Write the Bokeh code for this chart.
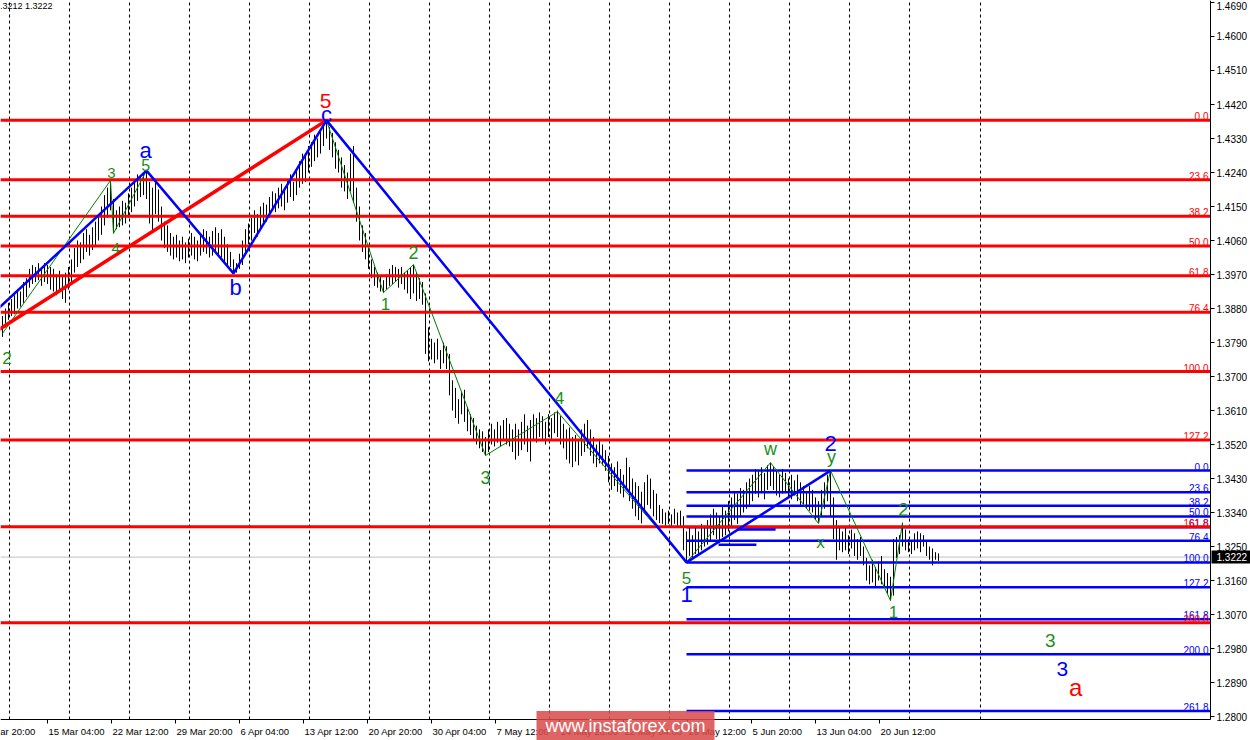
from bokeh.plotting import figure
from bokeh.models import Range1d, ColumnDataSource
from bokeh.core.properties import value
from bokeh.embed import file_html
from bokeh.resources import INLINE

# ---------------- data (GBPUSD H4) ----------------
HIGH = [
    1.3860, 1.3880, 1.3895, 1.3905, 1.3915, 1.3930, 1.3925, 1.3950, 1.3960, 1.3985,
    1.3995, 1.3990, 1.4000, 1.3985, 1.4000, 1.3995, 1.3990, 1.3985, 1.3970, 1.3980,
    1.3965, 1.3975, 1.3990, 1.4010, 1.4040, 1.4060, 1.4055, 1.4080, 1.4090, 1.4075,
    1.4095, 1.4110, 1.4130, 1.4150, 1.4180, 1.4200, 1.4219, 1.4170, 1.4140, 1.4150,
    1.4165, 1.4160, 1.4185, 1.4200, 1.4220, 1.4235, 1.4230, 1.4240, 1.4245, 1.4215,
    1.4200, 1.4215, 1.4195, 1.4150, 1.4110, 1.4100, 1.4080, 1.4070, 1.4075, 1.4060,
    1.4070, 1.4055, 1.4065, 1.4080, 1.4070, 1.4060, 1.4075, 1.4090, 1.4085, 1.4070,
    1.4085, 1.4095, 1.4080, 1.4090, 1.4070, 1.4050, 1.4030, 1.4010, 1.4000, 1.4025,
    1.4060, 1.4090, 1.4105, 1.4120, 1.4140, 1.4130, 1.4150, 1.4160, 1.4155, 1.4175,
    1.4190, 1.4185, 1.4200, 1.4210, 1.4200, 1.4220, 1.4235, 1.4215, 1.4250, 1.4270,
    1.4290, 1.4285, 1.4310, 1.4320, 1.4340, 1.4330, 1.4350, 1.4370, 1.4378, 1.4360,
    1.4345, 1.4320, 1.4300, 1.4280, 1.4260, 1.4240, 1.4290, 1.4310, 1.4200, 1.4150,
    1.4100, 1.4080, 1.4040, 1.4010, 1.3990, 1.3975, 1.3965, 1.3955, 1.3970, 1.3985,
    1.3995, 1.3990, 1.3985, 1.3990, 1.3975, 1.3980, 1.3990, 1.3996, 1.3975, 1.3960,
    1.3950, 1.3920, 1.3830, 1.3800, 1.3790, 1.3800, 1.3770, 1.3790, 1.3780, 1.3760,
    1.3690, 1.3670, 1.3640, 1.3660, 1.3665, 1.3620, 1.3600, 1.3590, 1.3570, 1.3560,
    1.3555, 1.3540, 1.3560, 1.3575, 1.3560, 1.3580, 1.3570, 1.3585, 1.3590, 1.3575,
    1.3560, 1.3575, 1.3560, 1.3580, 1.3600, 1.3570, 1.3585, 1.3600, 1.3590, 1.3605,
    1.3595, 1.3580, 1.3600, 1.3590, 1.3605, 1.3610, 1.3595, 1.3575, 1.3560, 1.3565,
    1.3540, 1.3545, 1.3530, 1.3560, 1.3575, 1.3585, 1.3560, 1.3540, 1.3520, 1.3530,
    1.3520, 1.3505, 1.3490, 1.3470, 1.3460, 1.3475, 1.3455, 1.3440, 1.3485, 1.3460,
    1.3430, 1.3420, 1.3410, 1.3395, 1.3420, 1.3440, 1.3430, 1.3400, 1.3390, 1.3360,
    1.3350, 1.3340, 1.3345, 1.3335, 1.3350, 1.3340, 1.3345, 1.3330, 1.3290, 1.3300,
    1.3280, 1.3300, 1.3290, 1.3310, 1.3305, 1.3320, 1.3335, 1.3350, 1.3340, 1.3330,
    1.3355, 1.3345, 1.3370, 1.3380, 1.3395, 1.3390, 1.3405, 1.3400, 1.3420, 1.3430,
    1.3440, 1.3455, 1.3450, 1.3460, 1.3445, 1.3465, 1.3472, 1.3460, 1.3450, 1.3440,
    1.3455, 1.3445, 1.3430, 1.3440, 1.3425, 1.3440, 1.3420, 1.3410, 1.3395, 1.3410,
    1.3400, 1.3380, 1.3370, 1.3400, 1.3420, 1.3440, 1.3451, 1.3380, 1.3320, 1.3300,
    1.3290, 1.3300, 1.3280, 1.3295, 1.3285, 1.3270, 1.3275, 1.3250, 1.3220, 1.3200,
    1.3215, 1.3195, 1.3210, 1.3225, 1.3190, 1.3180, 1.3170, 1.3270, 1.3275, 1.3280,
    1.3313, 1.3295, 1.3270, 1.3265, 1.3285, 1.3290, 1.3285, 1.3280, 1.3265, 1.3250,
    1.3245, 1.3235, 1.3232,
]
LOW = [
    1.3805, 1.3830, 1.3850, 1.3860, 1.3865, 1.3880, 1.3885, 1.3895, 1.3910, 1.3935,
    1.3945, 1.3950, 1.3955, 1.3940, 1.3950, 1.3945, 1.3930, 1.3925, 1.3915, 1.3925,
    1.3905, 1.3895, 1.3930, 1.3950, 1.3975, 1.3990, 1.4000, 1.4010, 1.4030, 1.4020,
    1.4035, 1.4045, 1.4060, 1.4075, 1.4100, 1.4120, 1.4140, 1.4079, 1.4090, 1.4095,
    1.4100, 1.4105, 1.4120, 1.4135, 1.4150, 1.4165, 1.4175, 1.4180, 1.4170, 1.4105,
    1.4080, 1.4130, 1.4110, 1.4060, 1.4040, 1.4030, 1.4020, 1.4010, 1.4015, 1.4005,
    1.4010, 1.4000, 1.4015, 1.4020, 1.4010, 1.4005, 1.4020, 1.4030, 1.4025, 1.4015,
    1.4020, 1.4030, 1.4020, 1.4015, 1.4005, 1.3995, 1.3990, 1.3973, 1.3975, 1.3985,
    1.3995, 1.4030, 1.4050, 1.4060, 1.4080, 1.4070, 1.4095, 1.4105, 1.4110, 1.4120,
    1.4140, 1.4135, 1.4145, 1.4150, 1.4140, 1.4160, 1.4175, 1.4165, 1.4180, 1.4200,
    1.4210, 1.4215, 1.4240, 1.4255, 1.4270, 1.4280, 1.4290, 1.4310, 1.4330, 1.4300,
    1.4280, 1.4250, 1.4240, 1.4200, 1.4190, 1.4170, 1.4190, 1.4160, 1.4110, 1.4060,
    1.4030, 1.4010, 1.3985, 1.3960, 1.3940, 1.3935, 1.3925, 1.3922, 1.3930, 1.3940,
    1.3945, 1.3950, 1.3935, 1.3945, 1.3930, 1.3920, 1.3905, 1.3920, 1.3900, 1.3905,
    1.3890, 1.3760, 1.3740, 1.3745, 1.3735, 1.3745, 1.3720, 1.3735, 1.3720, 1.3650,
    1.3610, 1.3590, 1.3575, 1.3600, 1.3580, 1.3555, 1.3545, 1.3530, 1.3520, 1.3510,
    1.3500, 1.3491, 1.3500, 1.3520, 1.3515, 1.3525, 1.3515, 1.3530, 1.3520, 1.3515,
    1.3500, 1.3480, 1.3490, 1.3505, 1.3520, 1.3500, 1.3475, 1.3530, 1.3525, 1.3540,
    1.3530, 1.3520, 1.3540, 1.3535, 1.3550, 1.3540, 1.3520, 1.3510, 1.3480, 1.3470,
    1.3460, 1.3475, 1.3465, 1.3490, 1.3500, 1.3510, 1.3490, 1.3470, 1.3460, 1.3470,
    1.3465, 1.3450, 1.3420, 1.3400, 1.3410, 1.3395, 1.3390, 1.3380, 1.3400, 1.3370,
    1.3350, 1.3330, 1.3320, 1.3311, 1.3340, 1.3360, 1.3350, 1.3330, 1.3320, 1.3312,
    1.3310, 1.3305, 1.3310, 1.3300, 1.3310, 1.3302, 1.3300, 1.3240, 1.3208, 1.3225,
    1.3220, 1.3230, 1.3225, 1.3240, 1.3250, 1.3255, 1.3265, 1.3280, 1.3270, 1.3260,
    1.3275, 1.3280, 1.3290, 1.3300, 1.3320, 1.3310, 1.3330, 1.3340, 1.3350, 1.3360,
    1.3370, 1.3390, 1.3380, 1.3395, 1.3375, 1.3400, 1.3410, 1.3400, 1.3385, 1.3380,
    1.3390, 1.3395, 1.3380, 1.3375, 1.3385, 1.3370, 1.3360, 1.3355, 1.3350, 1.3345,
    1.3340, 1.3320, 1.3313, 1.3330, 1.3350, 1.3370, 1.3330, 1.3270, 1.3215, 1.3240,
    1.3235, 1.3240, 1.3230, 1.3245, 1.3225, 1.3215, 1.3225, 1.3200, 1.3160, 1.3150,
    1.3155, 1.3145, 1.3160, 1.3150, 1.3140, 1.3125, 1.3107, 1.3120, 1.3220, 1.3230,
    1.3250, 1.3240, 1.3235, 1.3230, 1.3240, 1.3245, 1.3235, 1.3250, 1.3225, 1.3215,
    1.3200, 1.3215, 1.3212,
]
LAST_PRICE = 1.3222

# wave pivots: (bar index, price)
RED_WAVE = [(-3, 1.3815), (108, 1.4378)]
BLUE_WAVE = [(-3, 1.3868), (48, 1.4245), (77, 1.3973), (108, 1.4378), (228, 1.3208), (276, 1.3451)]
GREEN_WAVE_A = [(0, 1.3814), (36, 1.4219), (37, 1.4079), (48, 1.4245)]
GREEN_WAVE_B = [(108, 1.4378), (127, 1.3922), (137, 1.3996), (161, 1.3491), (185, 1.3607),
                (228, 1.3208), (256, 1.3472), (272, 1.3311), (276, 1.3451), (296, 1.3107), (300, 1.3313)]
BLUE_MARKS = [(245.0, 257.7, 1.3295), (238.7, 251.3, 1.3255)]

# Fibonacci grids
RED_FIB_HIGH, RED_FIB_LOW = 1.4378, 1.3713
RED_LEVELS = [0.0, 23.6, 38.2, 50.0, 61.8, 76.4, 100.0, 127.2, 161.8, 200.0]
BLUE_FIB_HIGH, BLUE_FIB_LOW = 1.3451, 1.3208
BLUE_FIB_START = 228
BLUE_LEVELS = [0.0, 23.6, 38.2, 50.0, 61.8, 76.4, 100.0, 127.2, 161.8, 200.0, 261.8]

# wave labels
LABEL_TEXT = ["2", "3", "4", "5", "a", "b", "c", "5", "1", "2", "3", "4", "5", "1",
              "w", "x", "y", "2", "1", "2", "3", "3", "a"]
LABEL_GROUP = ["g", "g", "g", "g", "b", "b", "b", "r", "g", "g", "g", "g", "g", "b",
               "g", "g", "g", "b", "g", "g", "g", "b", "r"]

# axes
Y_TICKS = [1.4690, 1.4600, 1.4510, 1.4420, 1.4330, 1.4240, 1.4150, 1.4060, 1.3970, 1.3880,
           1.3790, 1.3700, 1.3610, 1.3520, 1.3430, 1.3340, 1.3250, 1.3160, 1.3070, 1.2980,
           1.2890, 1.2800]
X_LABELS = ["8 Mar 20:00", "15 Mar 04:00", "22 Mar 12:00", "29 Mar 20:00", "6 Apr 04:00",
            "13 Apr 12:00", "20 Apr 20:00", "30 Apr 04:00", "7 May 12:00", "14 May 20:00",
            "22 May 04:00", "29 May 12:00", "5 Jun 20:00", "13 Jun 04:00", "20 Jun 12:00"]
HEADER = "1.3212 1.3222"
WATERMARK = "www.instaforex.com"

# ---------------- layout / styles ----------------
W, H = 1250, 740
PLOT_R, PLOT_B = 1210, 719          # chart area right / bottom edge (pixels)
PX_PER_BAR = 3.0
PX_PER_PRICE = 3778.0
REF_PRICE, REF_Y = 1.4420, 104.0


def ix(px):
    """screen x (px) -> bar-index coordinate"""
    return (px - 2.0) / PX_PER_BAR


def py(sy):
    """screen y (px) -> price coordinate"""
    return REF_PRICE - (sy - REF_Y) / PX_PER_PRICE


X0, X1 = ix(0), ix(W)
Y0, Y1 = py(H), py(0)
XR = ix(PLOT_R)          # right edge of chart area
YB = py(PLOT_B)          # bottom edge of chart area
GREEN = "#1a8f1a"
COLORS = {"g": GREEN, "b": "#0000ff", "r": "#ff0000"}
LABEL_POS = [(1.5, 1.3748, 17), (36.3, 1.4240, 15), (37.7, 1.4039, 15), (47.7, 1.4259, 16),
             (47.7, 1.4298, 22), (77.7, 1.3936, 22), (108.0, 1.4394, 22), (107.7, 1.4428, 21),
             (127.7, 1.3891, 17), (137.0, 1.4028, 18), (161.0, 1.3433, 18), (185.7, 1.3644, 17),
             (228.0, 1.3168, 17), (228.0, 1.3123, 22), (256.0, 1.3507, 18), (272.7, 1.3261, 17),
             (276.3, 1.3488, 18), (276.0, 1.3523, 22), (297.0, 1.3078, 17), (300.3, 1.3348, 19),
             (349.3, 1.3001, 19), (353.3, 1.2927, 21), (357.7, 1.2877, 24)]
FONT = "Liberation Sans"

p = figure(width=W, height=H, x_range=Range1d(X0, X1), y_range=Range1d(Y0, Y1),
           output_backend="svg", toolbar_location=None,
           x_axis_location=None, y_axis_location=None,
           min_border=0, min_border_left=0, min_border_right=0, min_border_top=0, min_border_bottom=0)
p.xgrid.visible = False
p.ygrid.visible = False
p.outline_line_color = None
p.background_fill_color = "white"
p.border_fill_color = "white"

# vertical dashed grid (chart area only)
grid_x = [ix(9 + 60 * k) for k in range(16)] + [ix(980)]
p.segment(x0=grid_x, y0=[YB] * len(grid_x), x1=grid_x, y1=[Y1] * len(grid_x),
          line_color="black", line_width=1, line_dash="3 3")

# current price line
p.segment(x0=[X0], y0=[LAST_PRICE], x1=[XR], y1=[LAST_PRICE], line_color="#c0c0c0", line_width=1)

# bars
n = len(HIGH)
src = ColumnDataSource(dict(x=list(range(n)), hi=HIGH, lo=LOW))
p.segment("x", "lo", "x", "hi", source=src, line_color="black", line_width=1)

# blue fib grid
brange = BLUE_FIB_HIGH - BLUE_FIB_LOW
for lv in BLUE_LEVELS:
    yv = BLUE_FIB_HIGH - brange * lv / 100.0
    p.segment(x0=[BLUE_FIB_START], y0=[yv], x1=[XR], y1=[yv], line_color="#0000ff", line_width=2.5)
    p.text(x=[XR], y=[yv], text=[f"{lv:.1f}"], text_color="#0000ff", text_align="right",
           text_baseline="bottom", x_offset=-2, text_font=value(FONT), text_font_size="10px")

# red fib grid
rrange = RED_FIB_HIGH - RED_FIB_LOW
for lv in RED_LEVELS:
    yv = RED_FIB_HIGH - rrange * lv / 100.0
    p.segment(x0=[X0], y0=[yv], x1=[XR], y1=[yv], line_color="#ff0000", line_width=3)
    p.text(x=[XR], y=[yv], text=[f"{lv:.1f}"], text_color="#ff0000", text_align="right",
           text_baseline="bottom", x_offset=-2, text_font=value(FONT), text_font_size="10px")


def path(pts):
    return [a for a, _ in pts], [b for _, b in pts]


# wave lines
for pts in (GREEN_WAVE_A, GREEN_WAVE_B):
    xs, ys = path(pts)
    p.line(xs, ys, line_color="#008000", line_width=1)
xs, ys = path(RED_WAVE)
p.line(xs, ys, line_color="#ff0000", line_width=3.5)
xs, ys = path(BLUE_WAVE)
p.line(xs, ys, line_color="#0000ff", line_width=2.5)
for a, b, yv in BLUE_MARKS:
    p.segment(x0=[a], y0=[yv], x1=[b], y1=[yv], line_color="#0000ff", line_width=2.5)

# wave labels
for t, g, (lx, ly, fs) in zip(LABEL_TEXT, LABEL_GROUP, LABEL_POS):
    p.text(x=[lx], y=[ly], text=[t], text_color=COLORS[g], text_align="center",
           text_baseline="middle", text_font=value(FONT), text_font_size=f"{fs}px")

# ---- right price axis (drawn by hand, MetaTrader style)
p.segment(x0=[XR], y0=[YB], x1=[XR], y1=[Y1], line_color="black", line_width=1)
p.segment(x0=[XR] * len(Y_TICKS), y0=Y_TICKS, x1=[ix(PLOT_R + 4)] * len(Y_TICKS), y1=Y_TICKS,
          line_color="black", line_width=1)
# keep the topmost label inside the picture
label_off = [4 if (Y1 - v) * PX_PER_PRICE < 6 else 0 for v in Y_TICKS]
p.text(x=[ix(PLOT_R + 6)] * len(Y_TICKS), y=Y_TICKS, text=[f"{v:.4f}" for v in Y_TICKS],
       y_offset=label_off, text_color="black", text_align="left", text_baseline="middle",
       text_font=value(FONT), text_font_size="10px")

# current price box
p.rect(x=[ix((PLOT_R + 1 + W) / 2)], y=[LAST_PRICE], width=(W - PLOT_R - 1) / PX_PER_BAR, height=13,
       height_units="screen", fill_color="black", line_color=None)
p.text(x=[ix(PLOT_R + 6)], y=[LAST_PRICE], text=[f"{LAST_PRICE:.4f}"], text_color="white",
       text_align="left", text_baseline="middle", text_font=value(FONT), text_font_size="10px")

# ---- bottom time axis
p.segment(x0=[X0], y0=[YB], x1=[XR], y1=[YB], line_color="black", line_width=1)
tick_x = [ix(-17 + 64 * k) for k in range(len(X_LABELS))]
p.segment(x0=tick_x, y0=[YB] * len(tick_x), x1=tick_x, y1=[py(PLOT_B + 4)] * len(tick_x),
          line_color="black", line_width=1)
p.text(x=[t + 1 / PX_PER_BAR for t in tick_x], y=[py(731)] * len(tick_x), text=X_LABELS,
       text_color="black", text_align="left", text_baseline="middle",
       text_font=value(FONT), text_font_size="9.5px")

# header (top-left)
p.text(x=[ix(52)], y=[py(5)], text=[HEADER], text_color="black", text_align="right",
       text_baseline="middle", text_font=value(FONT), text_font_size="9px")

# watermark
p.rect(x=[ix(625)], y=[py(726)], width=178 / PX_PER_BAR, height=31, height_units="screen",
       fill_color="#da4b4b", fill_alpha=0.86, line_color=None)
p.text(x=[ix(625)], y=[py(725)], text=[WATERMARK], text_color="white", text_align="center",
       text_baseline="middle", text_font=value(FONT), text_font_size="18px")

open("out.html", "w").write(file_html(p, INLINE))
